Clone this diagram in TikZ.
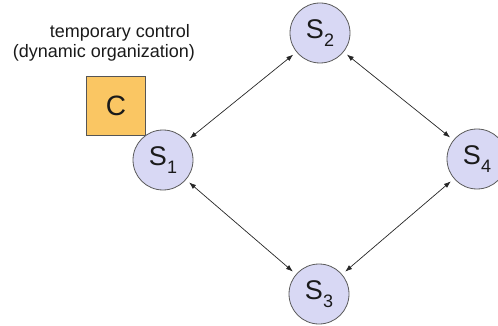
\documentclass[tikz,border=0pt]{standalone}
\usepackage{fontspec}
\setmainfont{Liberation Sans}
\usetikzlibrary{arrows.meta}

\definecolor{stateFill}{HTML}{D8D8F4}
\definecolor{stateLine}{HTML}{5A5A5A}
\definecolor{ctrlFill}{HTML}{FAC663}
\definecolor{ctrlLine}{HTML}{555555}
\definecolor{inkText}{HTML}{1A1A1A}

\newcommand{\statelabel}[1]{S\raisebox{-8pt}{\fontsize{18}{18}\selectfont #1}}

\tikzset{
  statenode/.style={circle, draw=stateLine, fill=stateFill, line width=0.8pt,
    minimum size=60pt, inner sep=0pt, text=inkText,
    font=\fontsize{27}{27}\selectfont},
  ctrlnode/.style={rectangle, draw=ctrlLine, fill=ctrlFill, line width=0.8pt,
    minimum size=59pt, inner sep=0pt, text=inkText,
    font=\fontsize{28}{28}\selectfont},
  caption/.style={anchor=base, inner sep=0pt, text=inkText,
    font=\fontsize{18}{18}\selectfont},
  link/.style={{Latex[length=7pt,width=5pt]}-{Latex[length=7pt,width=5pt]},
    draw=black!85, line width=0.7pt, shorten <=4pt, shorten >=4pt},
}

\begin{document}
\begin{tikzpicture}[x=1pt, y=-1pt]
  \useasboundingbox (0,0) rectangle (498,326);

  % caption above the control box
  \node[caption] (capA) at (120,38) {temporary control};
  \node[caption] (capB) at (104,58) {(dynamic organization)};

  % temporary controller
  \node[ctrlnode] (ctl) at (116,106) {C};

  % the four states
  \node[statenode] (s1) at (163,160) {\statelabel{1}};
  \node[statenode] (s2) at (320,33)  {\statelabel{2}};
  \node[statenode] (s3) at (319,294) {\statelabel{3}};
  \node[statenode] (s4) at (477,159) {\statelabel{4}};

  % bidirectional links
  \draw[link] (s1) -- (s2);
  \draw[link] (s2) -- (s4);
  \draw[link] (s1) -- (s3);
  \draw[link] (s3) -- (s4);
\end{tikzpicture}
\end{document}
